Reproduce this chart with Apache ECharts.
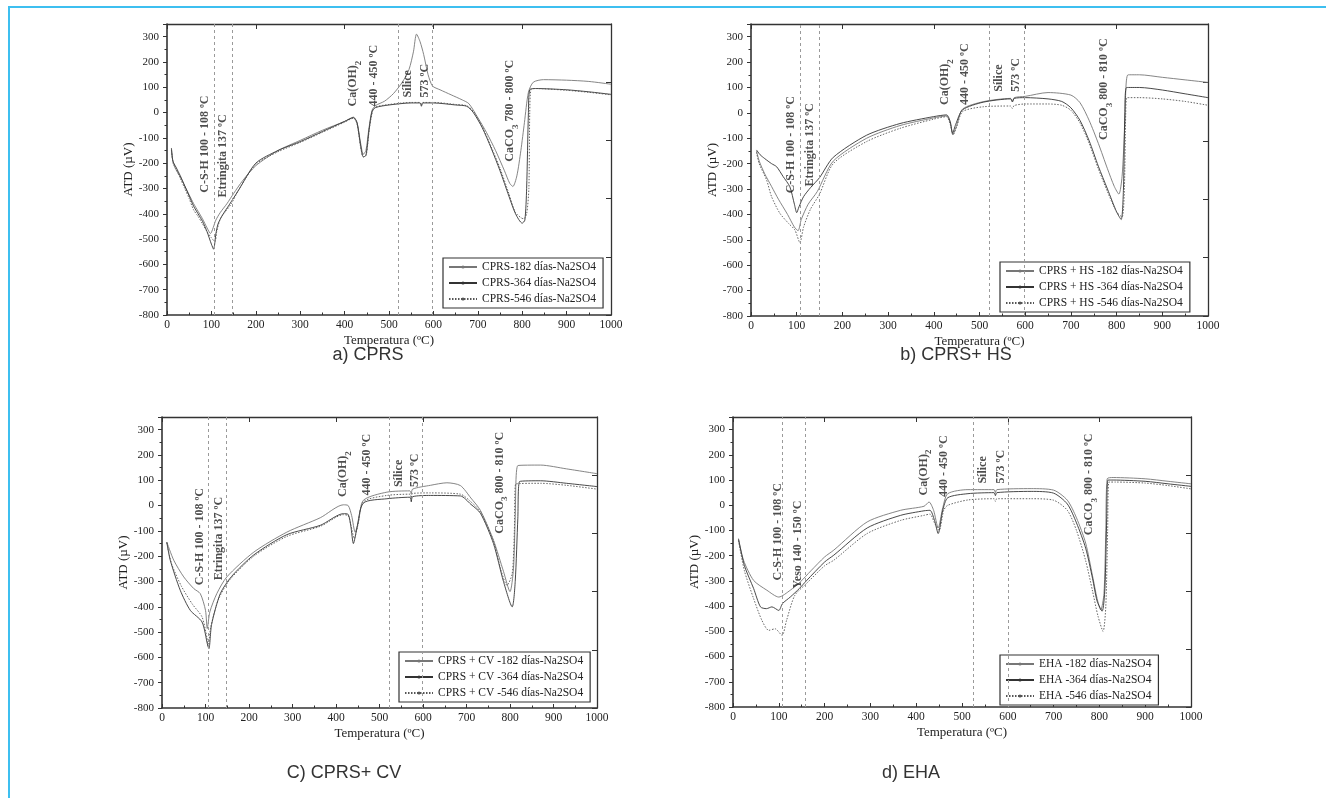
<!DOCTYPE html>
<html><head><meta charset="utf-8">
<script src="https://cdn.jsdelivr.net/npm/echarts@6/dist/echarts.min.js"></script>
<style>html,body{margin:0;padding:0;background:#fff}#c{width:1326px;height:798px}</style>
</head><body><div id="c"></div>
<script>
// ---------- DATA ----------
const namesA = ['CPRS-182 días-Na2SO4','CPRS-364 días-Na2SO4','CPRS-546 días-Na2SO4'];
const namesB = ['CPRS + HS -182 días-Na2SO4','CPRS + HS -364 días-Na2SO4','CPRS + HS -546 días-Na2SO4'];
const namesC = ['CPRS + CV -182 días-Na2SO4','CPRS + CV -364 días-Na2SO4','CPRS + CV -546 días-Na2SO4'];
const namesD = ['EHA -182 días-Na2SO4','EHA -364 días-Na2SO4','EHA -546 días-Na2SO4'];
const captions = ['a) CPRS','b) CPRS+ HS','C) CPRS+ CV','d) EHA'];

const a182 = [[10,-145],[14,-200],[20,-225],[30,-255],[40,-290],[50,-325],[60,-360],[70,-390],[80,-420],[90,-455],[98,-478],[104,-455],[110,-425],[120,-395],[135,-360],[150,-320],[170,-270],[200,-210],[250,-150],[300,-110],[350,-70],[400,-35],[420,-18],[428,-40],[436,-120],[442,-165],[448,-150],[455,-60],[462,10],[470,28],[490,45],[510,75],[530,120],[545,170],[555,240],[562,310],[570,280],[578,230],[588,150],[598,105],[615,90],[640,70],[665,50],[680,35],[700,-20],[720,-80],[740,-150],[760,-230],[772,-280],[779,-292],[788,-250],[797,-150],[805,-40],[814,80],[825,120],[848,130],[900,128],[950,123],[1000,112]];
const a364 = [[10,-140],[13,-190],[20,-215],[30,-250],[40,-290],[50,-330],[60,-370],[70,-400],[80,-430],[90,-470],[100,-520],[105,-540],[110,-480],[115,-440],[125,-405],[140,-365],[160,-310],[200,-200],[250,-150],[300,-115],[350,-75],[400,-35],[420,-20],[428,-40],[436,-130],[442,-175],[448,-170],[455,-70],[462,5],[470,20],[500,30],[550,38],[570,38],[573,25],[576,38],[600,38],[650,30],[675,25],[690,0],[710,-60],[730,-140],[750,-230],[770,-330],[785,-400],[800,-437],[806,-425],[810,-300],[814,0],[817,90],[830,95],[900,90],[950,82],[1000,72]];
const a546 = [[10,-150],[14,-200],[20,-220],[30,-260],[40,-300],[50,-340],[60,-385],[70,-410],[80,-440],[90,-470],[100,-495],[108,-510],[112,-470],[120,-420],[130,-395],[145,-360],[160,-310],[200,-205],[250,-155],[300,-118],[350,-78],[400,-38],[420,-22],[428,-45],[436,-135],[442,-175],[449,-165],[456,-60],[463,5],[470,22],[500,32],[550,40],[570,40],[573,28],[576,40],[600,40],[650,32],[675,27],[690,5],[710,-55],[730,-135],[750,-220],[770,-320],[785,-395],[803,-420],[810,-400],[815,-300],[817,0],[820,92],[830,95],[900,88],[950,80],[1000,70]];

const b182 = [[12,-150],[18,-190],[30,-240],[45,-290],[60,-340],[80,-400],[95,-450],[103,-464],[110,-420],[125,-360],[145,-310],[180,-190],[253,-100],[326,-50],[399,-20],[428,-12],[436,-40],[442,-85],[450,-50],[463,15],[508,44],[568,57],[572,45],[576,60],[600,65],[650,80],[700,70],[720,40],[740,-30],[760,-120],[780,-220],[795,-290],[805,-320],[812,-250],[818,-50],[825,150],[850,150],[900,140],[950,130],[1000,120]];
const b364 = [[12,-146],[20,-165],[30,-180],[45,-200],[56,-212],[70,-250],[85,-291],[95,-360],[100,-393],[105,-370],[115,-330],[130,-295],[150,-255],[180,-175],[253,-88],[326,-42],[399,-15],[428,-8],[436,-35],[441,-80],[448,-45],[463,12],[508,42],[568,55],[572,43],[576,57],[600,60],[650,55],[680,45],[700,20],[720,-30],[740,-110],[760,-210],[780,-300],[800,-390],[810,-420],[815,-300],[818,0],[822,100],[850,100],[900,90],[950,75],[1000,60]];
const b546 = [[12,-155],[18,-200],[34,-264],[45,-330],[63,-395],[82,-435],[96,-461],[107,-511],[115,-450],[130,-380],[150,-320],[180,-200],[253,-113],[326,-61],[399,-25],[428,-15],[436,-45],[442,-87],[450,-55],[463,5],[508,24],[568,27],[572,17],[576,29],[600,35],[650,35],[680,30],[700,10],[720,-40],[740,-120],[760,-220],[780,-310],[800,-390],[812,-410],[817,-300],[820,0],[823,60],[850,60],[900,55],[950,45],[1000,30]];

const c182 = [[11,-144],[27,-216],[50,-282],[73,-328],[88,-348],[100,-414],[104,-486],[110,-420],[126,-348],[149,-282],[211,-184],[287,-105],[364,-48],[417,3],[428,0],[436,-40],[444,-105],[452,-60],[463,21],[517,53],[570,58],[573,45],[576,65],[617,80],[655,90],[686,79],[710,30],[732,-19],[762,-137],[785,-260],[800,-340],[808,-250],[812,-50],[818,158],[870,160],[930,145],[1000,126]];
const c364 = [[11,-144],[19,-216],[42,-335],[65,-414],[92,-460],[105,-552],[108,-565],[114,-470],[134,-348],[160,-280],[211,-195],[287,-115],[364,-78],[417,-32],[428,-35],[434,-80],[440,-150],[448,-90],[463,10],[517,27],[570,33],[573,15],[576,35],[617,40],[686,38],[710,5],[732,-30],[762,-150],[785,-300],[805,-400],[812,-300],[818,-50],[822,95],[870,98],[930,88],[1000,75]];
const c546 = [[11,-148],[22,-230],[45,-320],[70,-390],[92,-440],[103,-520],[106,-560],[112,-480],[130,-370],[155,-295],[211,-200],[287,-122],[364,-82],[417,-36],[428,-40],[434,-75],[442,-130],[450,-80],[463,15],[517,40],[570,45],[573,30],[576,48],[617,50],[686,45],[710,15],[732,-25],[762,-140],[780,-260],[793,-315],[805,-270],[810,-100],[813,85],[870,88],[930,80],[1000,65]];

const d182 = [[12,-132],[23,-218],[45,-298],[74,-337],[100,-364],[125,-337],[147,-304],[170,-260],[200,-205],[220,-178],[293,-66],[366,-20],[417,-4],[428,13],[438,-20],[448,-90],[458,-10],[469,46],[513,62],[570,62],[573,50],[576,62],[651,66],[700,60],[730,20],[750,-50],[770,-150],[785,-280],[795,-370],[803,-415],[810,-350],[814,-100],[817,105],[830,110],[900,105],[950,95],[1000,85]];
const d364 = [[12,-135],[25,-240],[45,-330],[60,-403],[73,-410],[85,-403],[100,-417],[108,-390],[125,-364],[145,-330],[160,-300],[200,-225],[220,-198],[293,-90],[366,-40],[417,-22],[430,-20],[440,-60],[448,-112],[458,-20],[469,30],[513,46],[570,50],[573,38],[576,50],[651,55],[700,48],[730,5],[750,-70],[770,-170],[785,-290],[795,-380],[806,-420],[812,-330],[816,-50],[819,100],[830,100],[900,95],[950,85],[1000,75]];
const d546 = [[12,-140],[25,-260],[45,-370],[63,-456],[78,-496],[92,-490],[107,-516],[117,-456],[135,-357],[160,-311],[200,-240],[220,-218],[293,-112],[366,-60],[417,-40],[430,-35],[440,-70],[450,-100],[460,-20],[469,0],[513,21],[570,26],[573,15],[576,26],[651,26],[700,20],[730,-20],[750,-100],[770,-220],[785,-340],[797,-440],[808,-500],[814,-400],[818,-100],[821,92],[835,92],[900,88],[950,78],[1000,65]];

const vlinesA = [107,147,520,597];
const vlinesB = [107,149,521,597];
const vlinesC = [107,148,522,598];
const vlinesD = [108,157,525,600];

const annotA = [[85,-317,'C-S-H 100 - 108 ºC'],[126,-336,'Etringita 137 ºC'],[419,24,'Ca(OH)_2'],[466,24,'440 - 450 ºC'],[543,60,'Sílice'],[581,60,'573 ºC'],[773,-194,'CaCO_3 780 - 800 ºC']];
const annotB = [[87,-317,'C-S-H 100 - 108 ºC'],[129,-290,'Etringita 137 ºC'],[424,31,'Ca(OH)_2'],[469,31,'440 - 450 ºC'],[543,83,'Sílice'],[580,83,'573 ºC'],[773,-107,'CaCO_3 800 - 810 ºC']];
const annotC = [[86,-315,'C-S-H 100 - 108 ºC'],[130,-295,'Etringita 137 ºC'],[416,34,'Ca(OH)_2'],[470,40,'440 - 450 ºC'],[544,73,'Sílice'],[582,73,'573 ºC'],[776,-111,'CaCO_3 800 - 810 ºC']];
const annotD = [[98,-298,'C-S-H 100 - 108 ºC'],[142,-330,'Yeso 140 - 150 ºC'],[416,39,'Ca(OH)_2'],[461,33,'440 - 450 ºC'],[546,86,'Sílice'],[585,86,'573 ºC'],[777,-119,'CaCO_3 800 - 810 ºC']];

// ---------- LAYOUT ----------
const grids = [
  {left:167, top:24, width:444, height:291},
  {left:751, top:24, width:457, height:292},
  {left:162, top:417, width:435, height:291},
  {left:733, top:417, width:458, height:290}
];
const legendPos = [{left:443, top:258},{left:1000, top:262},{left:399, top:652},{left:1000, top:655}];
const captionPos = [[368,355],[956,355],[344,773],[911,773]];

const panels = [
  {names:namesA, data:[a182,a364,a546], vl:vlinesA, an:annotA},
  {names:namesB, data:[b182,b364,b546], vl:vlinesB, an:annotB},
  {names:namesC, data:[c182,c364,c546], vl:vlinesC, an:annotC},
  {names:namesD, data:[d182,d364,d546], vl:vlinesD, an:annotD}
];
const lineStyles = [
  {color:'#777', width:0.9, type:'solid'},
  {color:'#333', width:0.9, type:'solid'},
  {color:'#555', width:0.9, type:[1.5,1.5]}
];
const SERIF = '"Liberation Serif", "DejaVu Serif", serif';
const AX = '#333';

const xAxes=[], yAxes=[], series=[], legends=[];
panels.forEach((p,i)=>{
  xAxes.push({type:'value', gridIndex:i, min:0, max:1000, interval:100,
    name:'Temperatura (ºC)', nameLocation:'middle', nameGap:19,
    nameTextStyle:{fontFamily:SERIF, fontSize:13, color:'#222'},
    axisLine:{onZero:false, lineStyle:{color:AX, width:1.6}},
    axisTick:{inside:true, length:4, lineStyle:{color:AX}},
    minorTick:{show:true, splitNumber:2, length:2.5, lineStyle:{color:AX}},
    axisLabel:{fontFamily:SERIF, fontSize:11.5, color:'#222', margin:4, formatter:(v)=>String(v)},
    splitLine:{show:false}});
  yAxes.push({type:'value', gridIndex:i, min:-800, max:350, interval:100,
    name:'ATD (µV)', nameLocation:'middle', nameGap:22, nameRotate:90,
    nameTextStyle:{fontFamily:SERIF, fontSize:13, color:'#222'},
    axisLine:{onZero:false, lineStyle:{color:AX, width:1.6}},
    axisTick:{inside:false, length:4, lineStyle:{color:AX}},
    minorTick:{show:true, splitNumber:2, length:2.5, lineStyle:{color:AX}},
    axisLabel:{fontFamily:SERIF, fontSize:11, color:'#222', margin:8, showMaxLabel:false, formatter:(v)=>String(v)},
    splitLine:{show:false}});
  p.data.forEach((d,k)=>{
    series.push({type:'line', name:p.names[k], xAxisIndex:i, yAxisIndex:i, data:d,
      symbol:'circle', symbolSize:3, showSymbol:false, smooth:0.25,
      lineStyle:lineStyles[k], itemStyle:{color:lineStyles[k].color}, z:3, silent:true});
  });
  series.push({type:'scatter', xAxisIndex:i, yAxisIndex:i, symbolSize:0, silent:true, z:5,
    data:p.an.map(a=>({value:[a[0],a[1]], name:a[2]})),
    label:{show:true, position:'inside', rotate:90, align:'left', verticalAlign:'middle',
      fontFamily:SERIF, fontWeight:'bold', fontSize:12, color:'#222',
      formatter:(q)=>{ const s=q.name; const m=s.indexOf('_'); if(m<0) return s;
        return s.slice(0,m)+'{s|'+s[m+1]+'}'+'{n|'+s.slice(m+2)+'}'; },
      rich:{s:{fontFamily:SERIF, fontWeight:'bold', fontSize:9, color:'#222', verticalAlign:'bottom', lineHeight:20},
            n:{fontFamily:SERIF, fontWeight:'bold', fontSize:12, color:'#222'}}},
    markLine:{symbol:['none','none'], silent:true, label:{show:false},
      lineStyle:{type:[3,3], color:'#9a9a9a', width:1}, data:p.vl.map(v=>({xAxis:v}))}
  });
  legends.push(Object.assign({orient:'vertical', data:p.names, itemWidth:28, itemHeight:4, itemGap:4,
    padding:[3,7,3,5], borderColor:'#333', borderWidth:1.2, backgroundColor:'#fff', borderRadius:0,
    textStyle:{fontFamily:SERIF, fontSize:11.5, color:'#222'}, selectedMode:false}, legendPos[i]));
});
// frame axes (top / right) with 5 equal divisions
panels.forEach((p,i)=>{
  xAxes.push({type:'value', gridIndex:i, position:'top', min:0, max:5, interval:1,
    axisLine:{onZero:false, lineStyle:{color:AX, width:1.3}}, axisTick:{inside:true, length:5, lineStyle:{color:AX}},
    axisLabel:{show:false}, splitLine:{show:false}});
  yAxes.push({type:'value', gridIndex:i, position:'right', min:0, max:5, interval:1,
    axisLine:{onZero:false, lineStyle:{color:AX, width:1.3}}, axisTick:{inside:true, length:5, lineStyle:{color:AX}},
    axisLabel:{show:false}, splitLine:{show:false}});
});

const graphic = [
  {type:'line', shape:{x1:8, y1:7, x2:1326, y2:7}, style:{stroke:'#3dbff0', lineWidth:2}},
  {type:'line', shape:{x1:9, y1:7, x2:9, y2:798}, style:{stroke:'#3dbff0', lineWidth:2}}
];
captions.forEach((t,i)=>{
  graphic.push({type:'text', x:captionPos[i][0], y:captionPos[i][1],
    style:{text:t, fontFamily:'"Liberation Sans", Arial, sans-serif', fontSize:18, fill:'#333', align:'center', verticalAlign:'middle'}});
});

const chart = echarts.init(document.getElementById('c'), null, {renderer:'canvas'});
chart.setOption({animation:false, backgroundColor:'#fff', grid:grids, xAxis:xAxes, yAxis:yAxes,
  legend:legends, series:series, graphic:graphic});
</script></body></html>
